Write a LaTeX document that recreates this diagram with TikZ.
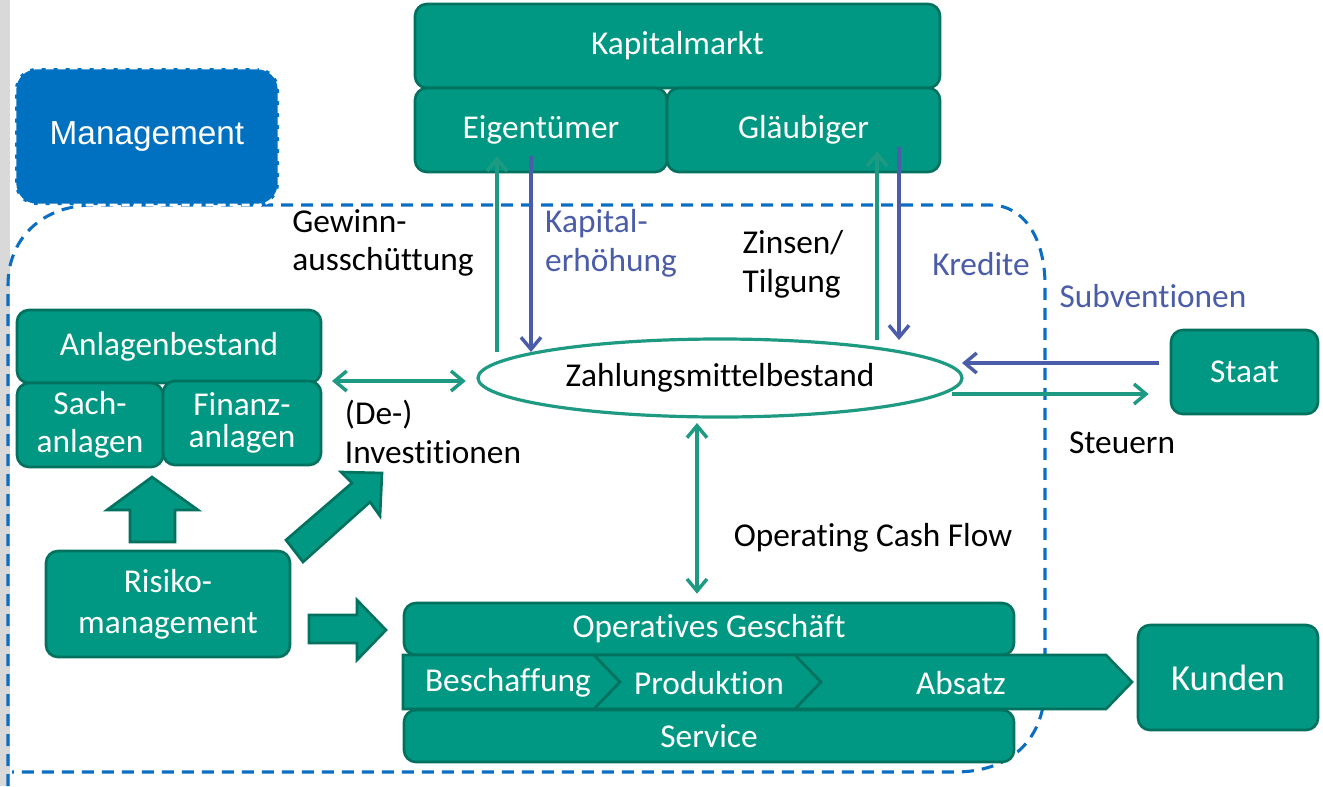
\documentclass[tikz,border=0pt]{standalone}
\usepackage{fontspec}
\setmainfont{Carlito}[Ligatures={NoCommon}]
\newfontfamily\arialfont{Liberation Sans}
\usetikzlibrary{arrows.meta,shapes.geometric}
\definecolor{tealfill}{HTML}{009882}
\definecolor{tealdark}{HTML}{00725F}
\definecolor{arrgreen}{HTML}{1E9A82}
\definecolor{arrblue}{HTML}{4B5DA8}
\definecolor{dashblue}{HTML}{0A6FC2}
\definecolor{mgmtblue}{HTML}{0070C0}
\definecolor{stripgray}{HTML}{D9D9D9}
\begin{document}
\begin{tikzpicture}[x=0.75pt,y=-0.75pt,
  box/.style={draw=tealdark, fill=tealfill, line width=2pt, rounded corners=9pt, text=white,
    font=\fontsize{25}{29}\selectfont, align=center, inner sep=0pt},
  boxtext/.style={text=white, font=\fontsize{25}{29}\selectfont, inner sep=0pt},
  lbl/.style={font=\fontsize{25}{29}\selectfont, align=left, inner sep=0pt, text=black},
  bluelbl/.style={lbl, text=arrblue},
  garrow/.style={draw=arrgreen, line width=2.6pt, -{Straight Barb[length=9pt,width=15pt]}},
  barrow/.style={draw=arrblue, line width=2.6pt, -{Straight Barb[length=9pt,width=15pt]}},
  gdbl/.style={draw=arrgreen, line width=2.6pt, {Straight Barb[length=9pt,width=15pt]}-{Straight Barb[length=9pt,width=15pt]}},
  blockarr/.style={fill=tealfill, draw=tealdark, line width=2pt, line join=miter},
  bound/.style={draw=dashblue, line width=2.3pt, dash pattern=on 9pt off 6pt}
]
\useasboundingbox (0,0) rectangle (1323,786);
\fill[white] (0,0) rectangle (1323,786);
\fill[stripgray] (0,0) rectangle (10,786);

% system boundary
\draw[bound] (8,786) -- (8,285) .. controls (8,240) and (40,207) .. (90,205)
  -- (990,205) .. controls (1025,205) and (1045,240) .. (1045,285)
  -- (1045,685) .. controls (1045,740) and (1010,772) .. (955,772) -- (12,772);

% management
\node[draw=white, fill=mgmtblue, line width=2pt, dash pattern=on 6pt off 3pt, rounded corners=16pt,
  minimum width=198pt, minimum height=102.75pt, text=white, inner sep=0pt,
  font=\arialfont\fontsize{25}{29}\selectfont] (mgmt) at (147,136.5) {Management};

% capital market
\node[box, minimum width=393.75pt, minimum height=63pt] (km) at (677.5,46) {Kapitalmarkt};
\node[box, minimum width=189pt, minimum height=63pt] (eig) at (541,130) {Eigentümer};
\node[box, minimum width=204.75pt, minimum height=63pt] (gla) at (803.5,130) {Gläubiger};

% assets
\node[box, minimum width=228pt, minimum height=54.75pt] (anl) at (169,346.5) {Anlagenbestand};
\node[box, minimum width=109.5pt, minimum height=63pt, font=\fontsize{25}{28.5}\selectfont] (sach) at (90,425) {Sach-\\anlagen};
\node[box, minimum width=118.5pt, minimum height=63pt, font=\fontsize{25}{23.5}\selectfont] (fin) at (242,423) {Finanz-\\anlagen};

% risk management
\node[box, minimum width=183pt, minimum height=79.5pt, font=\fontsize{25}{30.5}\selectfont] (risk) at (168,604) {Risiko-\\management};

% cash
\node[ellipse, draw=arrgreen, line width=2.4pt, fill=white, minimum width=363pt, minimum height=58.5pt,
  inner sep=0pt, font=\fontsize{25}{29}\selectfont] (ell) at (720,378) {Zahlungsmittelbestand};

% state and customers
\node[box, minimum width=110.25pt, minimum height=63pt] (staat) at (1244.5,372) {Staat};
\node[box, minimum width=135pt, minimum height=78.75pt, font=\fontsize{27.5}{32}\selectfont] (kunden) at (1228,677.5) {Kunden};

% operations
\node[box, minimum width=457.5pt, minimum height=39pt] (op) at (709,629) {Operatives Geschäft};
\node[box, minimum width=457.5pt, minimum height=39pt] (serv) at (709,736) {Service};
\filldraw[blockarr] (403,655) -- (594,655) -- (620,682) -- (594,709) -- (403,709) -- cycle;
\filldraw[blockarr] (594,655) -- (795,655) -- (821,682) -- (795,709) -- (594,709) -- (620,682) -- cycle;
\filldraw[blockarr] (795,655) -- (1106,655) -- (1132,682) -- (1106,709) -- (795,709) -- (821,682) -- cycle;
\node[boxtext] (besch) at (508,683) {Beschaffung};
\node[boxtext] (prod) at (709,683) {Produktion};
\node[boxtext] (absatz) at (961,683) {Absatz};

% block arrows
\filldraw[blockarr] (130,542) -- (130,510) -- (107,510) -- (152,477) -- (198,510) -- (175,510) -- (175,542) -- cycle;
\filldraw[blockarr] (286,540) -- (352,483) -- (341,472) -- (382,473) -- (380,516) -- (370,502) -- (303,562) -- cycle;
\filldraw[blockarr] (309,615) -- (357,615) -- (357,600) -- (386,630) -- (357,660) -- (357,643) -- (309,643) -- cycle;

% labels
\node[lbl] (gew) at (383,243) {Gewinn-\\ausschüttung};
\node[bluelbl] (kap) at (611,243) {Kapital-\\erhöhung};
\node[lbl] (zins) at (793,264) {Zinsen/\\Tilgung};
\node[bluelbl] (kred) at (981,264) {Kredite};
\node[bluelbl] (subv) at (1153,296) {Subventionen};
\node[lbl] (steu) at (1122,443) {Steuern};
\node[lbl] (deinv) at (433,432) {(De-)\\Investitionen};
\node[lbl] (ocf) at (873,538) {Operating Cash Flow};

% connectors
\coordinate (gA) at (497,352);
\coordinate (bA) at (531,352);
\coordinate (gB) at (877,340);
\coordinate (bB) at (899,340);
\draw[garrow, shorten >=-12.75pt] (gA) -- (gA |- eig.south);
\draw[barrow, shorten <=-12.75pt] (bA |- eig.south) -- (bA);
\draw[garrow, shorten >=-16.5pt] (gB) -- (gB |- gla.south);
\draw[barrow, shorten <=-20pt] (bB |- gla.south) -- (bB);

\coordinate (sv) at (962,363);
\draw[barrow, shorten <=8pt] (staat.west |- sv) -- (sv);
\coordinate (st) at (952,394);
\draw[garrow, shorten >=15.75pt] (st) -- (staat.west |- st);

\coordinate (dv) at (332,381);
\draw[gdbl, shorten >=8pt] (dv) -- (dv -| ell.west);
\coordinate (oc) at (697,423);
\draw[gdbl, shorten >=6pt] (oc) -- (oc |- op.north);
\end{tikzpicture}
\end{document}
